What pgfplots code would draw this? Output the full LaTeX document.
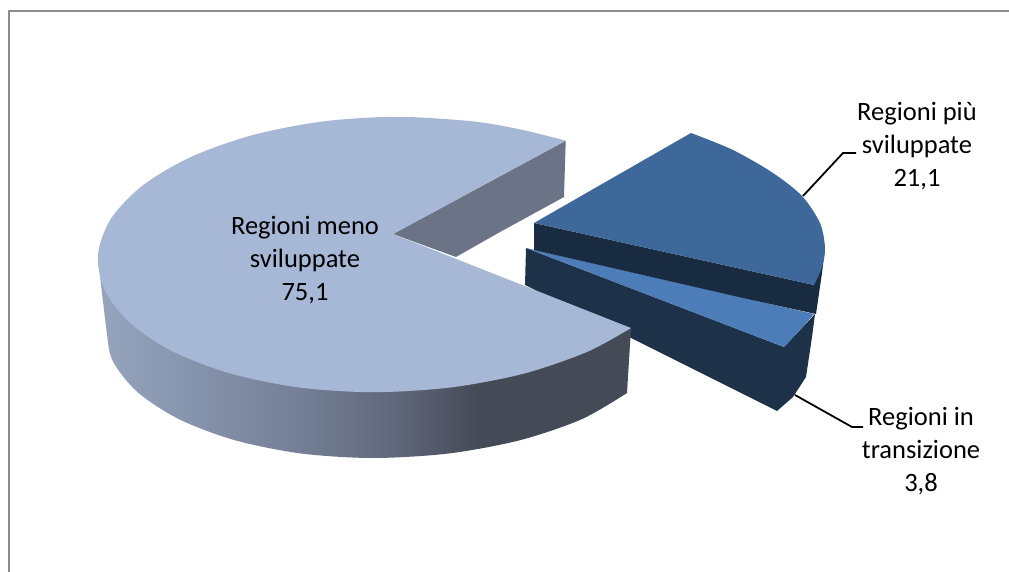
\documentclass[border=0pt]{standalone}
\usepackage{pgfplots}
\pgfplotsset{compat=1.18}
\usepackage{fontspec}
\setmainfont{Carlito}
\definecolor{wa}{HTML}{97A4BE}
\definecolor{wb}{HTML}{8592AB}
\definecolor{wc}{HTML}{747F95}
\definecolor{wd}{HTML}{5F6678}
\definecolor{we}{HTML}{454A57}
\definecolor{bigtop}{HTML}{A7B7D6}
\definecolor{notch}{HTML}{6B7487}
\definecolor{midtop}{HTML}{3E6899}
\definecolor{midwall}{HTML}{182B41}
\definecolor{smalltop}{HTML}{4C7DB9}
\definecolor{smallwall}{HTML}{1D3149}
\definecolor{frame}{HTML}{8C8C8C}
% side wall of the big slice: stops 25..75 span the slice's width
\pgfdeclarehorizontalshading{wall}{100bp}{
  color(0bp)=(wa); color(25bp)=(wa); color(34.6bp)=(wb); color(44bp)=(wc);
  color(53.3bp)=(wd); color(60.8bp)=(we); color(75bp)=(we); color(100bp)=(we)}
\begin{document}
\begin{tikzpicture}
\begin{axis}[
  scale only axis,
  width=1009pt,height=572pt,
  xmin=0,xmax=1009,ymin=0,ymax=572,
  y dir=reverse,
  hide axis,
  clip=true,
]
% page background and frame
\addplot[fill=white,draw=none] coordinates {(0,0)(1009,0)(1009,572)(0,572)} --cycle;
\addplot[frame,line width=1.2pt] coordinates {(9,572)(9,11)(1009,11)};
% Regioni in transizione
\addplot[fill=smallwall,draw=none] coordinates {
  (526,248)(525,285)(777,411)} -- (axis cs:793,397) -- (axis cs:806,377) -- (axis cs:812,337) -- (axis cs:815,314) -- (axis cs:784,347) -- cycle;
\addplot[fill=smalltop,draw=none,smooth] coordinates {
  (814,314)(799,331)(784,347)} -- (axis cs:526,248) -- cycle;
% Regioni piu sviluppate
\addplot[fill=midwall,draw=none] coordinates {
  (534,223)(534,250)(743,298)(816,314)(822,273)(825,248)(814,285)} --cycle;
\addplot[fill=midtop,draw=none,smooth] coordinates {
  (691,133)(733,150)(773,173)(802,196)(820,223)(825,248)(822,267)(814,285)} -- (axis cs:534,223) -- cycle;
% Regioni meno sviluppate
\addplot[shade,shading=wall,draw=none,smooth] coordinates {
  (98,258)(106,326)(112.4,360.2)(137.4,392)(179.2,419.3)(235.1,440.3)(301.1,453.5)(373,458)
  (448.5,453.5)(519.6,440.3)(581.5,419.3)(627,393)} -- (axis cs:631,328) -- cycle;
\addplot[fill=notch,draw=none] coordinates {
  (393,234)(565.7,140.7)(564,197)(500,232)(456,257)} --cycle;
\addplot[fill=bigtop,draw=none,smooth] coordinates {
  (565.7,140.7)(521.9,129.8)(473.8,121.5)(397,116.8)(322.3,121.5)(251.9,135.3)(190.6,157.1)(142.5,185.6)(110.9,218.8)(98,254.5)
  (104.7,290.2)(130.5,323.4)(173.6,351.9)(231.1,373.7)(299.1,387.5)(373,392.2)(450.6,387.5)(523.6,373.7)(587.2,351.9)(631,328)} -- (axis cs:393,234) -- cycle;
% leader lines
\addplot[black,line width=1.8pt] coordinates {(803,196)(843,153)(856,153)};
\addplot[black,line width=1.8pt] coordinates {(795,395)(852,427)(863,427)};
\end{axis}
\begin{axis}[
  scale only axis,
  width=1009pt,height=572pt,
  xmin=0,xmax=1009,ymin=0,ymax=572,
  y dir=reverse,
  hide axis,
  nodes={font=\fontsize{26.5}{33}\selectfont,align=center,text=black,inner sep=0pt},
]
\node at (axis cs:305,260) {Regioni meno\\sviluppate\\75,1};
\node at (axis cs:917,146) {Regioni più\\sviluppate\\21,1};
\node at (axis cs:921,451) {Regioni in\\transizione\\3,8};
\end{axis}
\end{tikzpicture}
\end{document}
